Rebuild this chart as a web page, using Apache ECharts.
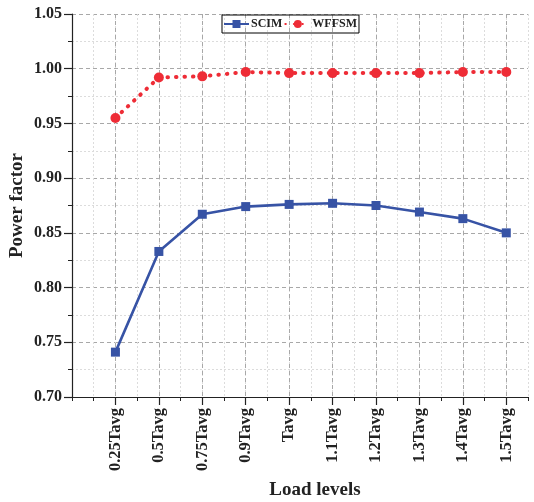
<!DOCTYPE html>
<html><head><meta charset="utf-8">
<script src="https://cdn.jsdelivr.net/npm/echarts@6/dist/echarts.min.js"></script>
<style>html,body{margin:0;padding:0;background:#fff}#c{width:534px;height:502px}</style>
</head><body><div id="c"></div>
<script>
const categories = ['0.25Tavg','0.5Tavg','0.75Tavg','0.9Tavg','Tavg','1.1Tavg','1.2Tavg','1.3Tavg','1.4Tavg','1.5Tavg'];
const scim  = [0.741,0.833,0.867,0.874,0.876,0.877,0.875,0.869,0.863,0.850];
const wffsm = [0.955,0.992,0.993,0.997,0.996,0.996,0.996,0.996,0.997,0.997];
const seriesNames = ['SCIM','WFFSM'];
const yMin = 0.70, yMax = 1.05, yStep = 0.05;

const FONT = 'Liberation Serif';
const positions = categories.map((c,i)=>i+1);
const chart = echarts.init(document.getElementById('c'));
chart.setOption({
  animation:false,
  backgroundColor:'#fff',
  grid:{left:72,right:6,top:14,bottom:105,containLabel:false,outerBoundsMode:'none'},
  legend:{
    top:15, left:222,
    data:seriesNames,
    borderColor:'#000', borderWidth:1, padding:[3,2,3,1],
    itemWidth:25, itemHeight:10, itemGap:2,
    textStyle:{fontFamily:FONT,fontWeight:'bold',fontSize:12,color:'#222',padding:[0,0,0,-3]}
  },
  xAxis:[{
    type:'value', min:0, max:10.5, interval:0.5,
    axisLine:{show:true,lineStyle:{color:'#222',width:1.2}},
    axisTick:{show:true,length:4,lineStyle:{color:'#222'}},
    axisLabel:{show:false},
    splitLine:{show:true,lineStyle:{color:'#dcdcdc',type:[2,2],width:1}}
  },{
    type:'value', min:0, max:10.5, position:'bottom',
    axisLine:{show:false},
    axisTick:{show:true,length:8,customValues:positions,lineStyle:{color:'#222',width:1.2}},
    axisLabel:{show:true,customValues:positions,rotate:90,margin:11,
      fontFamily:FONT,fontWeight:'bold',fontSize:16.5,color:'#222',
      formatter:v=>categories[Math.round(v)-1]||''},
    splitLine:{show:true,lineStyle:{color:'#a8a8a8',type:[4,3],width:1}},
    name:'Load levels', nameLocation:'middle', nameGap:84, nameMoveOverlap:false,
    nameTextStyle:{fontFamily:FONT,fontWeight:'bold',fontSize:19,color:'#222',padding:[0,0,0,30]}
  }],
  yAxis:{
    type:'value', min:yMin, max:yMax, interval:yStep,
    axisLine:{show:true,lineStyle:{color:'#222',width:1.2}},
    axisTick:{show:true,length:8,lineStyle:{color:'#222',width:1.2}},
    minorTick:{show:true,splitNumber:2,length:4,lineStyle:{color:'#222'}},
    minorSplitLine:{show:true,lineStyle:{color:'#dcdcdc',type:[2,2],width:1}},
    splitLine:{show:true,lineStyle:{color:'#a8a8a8',type:[4,3],width:1}},
    axisLabel:{margin:10,fontFamily:FONT,fontWeight:'bold',fontSize:16,color:'#222',
      formatter:v=>v.toFixed(2)},
    name:'Power factor', nameLocation:'middle', nameGap:45, nameMoveOverlap:false,
    nameTextStyle:{fontFamily:FONT,fontWeight:'bold',fontSize:19,color:'#222'}
  },
  series:[{
    name:seriesNames[0], type:'line', xAxisIndex:1,
    data:positions.map((p,i)=>[p,scim[i]]),
    symbol:'rect', symbolSize:9,
    lineStyle:{color:'#3753a5',width:2.6},
    itemStyle:{color:'#3753a5'}
  },{
    name:seriesNames[1], type:'line', xAxisIndex:1,
    data:positions.map((p,i)=>[p,wffsm[i]]),
    symbol:'circle', symbolSize:10,
    lineStyle:{color:'#ee2c36',width:4,type:[0.5,8],cap:'round'},
    itemStyle:{color:'#ee2c36'}
  }]
});
</script></body></html>
